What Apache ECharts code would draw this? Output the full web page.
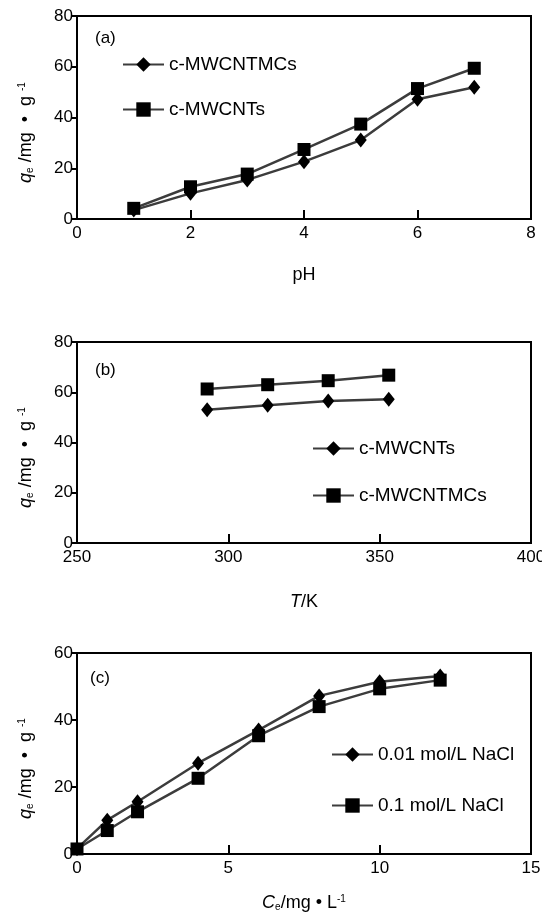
<!DOCTYPE html>
<html>
<head>
<meta charset="utf-8">
<script src="https://cdn.jsdelivr.net/npm/echarts@6/dist/echarts.min.js"></script>
<style>
html,body{margin:0;padding:0;background:#fff;}
#chart{width:542px;height:917px;}
</style>
</head>
<body>
<div id="chart"></div>
<script>
// Panel (a): q_e vs pH
const pH = [1, 2, 3, 4, 5, 6, 7];
const aMCs = [3.5, 10.1, 15.4, 22.6, 31.1, 47.2, 51.9];   // c-MWCNTMCs (diamond)
const aNTs = [4.2, 12.7, 17.7, 27.4, 37.4, 51.4, 59.4];   // c-MWCNTs (square)
// Panel (b): q_e vs T
const T = [293, 313, 333, 353];
const bNTs = [53.0, 54.8, 56.5, 57.2];   // c-MWCNTs (diamond)
const bMCs = [61.3, 63.0, 64.6, 66.8];   // c-MWCNTMCs (square)
// Panel (c): q_e vs C_e
const Ce = [0, 1, 2, 4, 6, 8, 10, 12];
const c001 = [1.6, 10.1, 15.6, 27.1, 37.0, 47.2, 51.4, 53.1]; // 0.01 mol/L NaCl (diamond)
const c01 = [1.5, 7.0, 12.6, 22.6, 35.3, 44.0, 49.3, 51.9];   // 0.1 mol/L NaCl (square)

const FONT = 'Liberation Sans';
const pair = (xs, ys) => xs.map((x, i) => [x, ys[i]]);
const lineCol = '#3c3c3c';

function mkSeries(name, idx, data, sym) {
  return {
    name: name, type: 'line', xAxisIndex: idx, yAxisIndex: idx,
    data: data, symbol: sym,
    symbolSize: sym === 'diamond' ? [12, 15] : 13,
    itemStyle: {color: '#000'},
    lineStyle: {color: lineCol, width: 2.5},
    animation: false
  };
}

const rich = {
  i: {fontFamily: FONT, fontSize: 18, fontStyle: 'italic', color: '#000'},
  n: {fontFamily: FONT, fontSize: 18, color: '#000'},
  sub: {fontFamily: FONT, fontSize: 10, color: '#000', verticalAlign: 'bottom', padding: [8, 0, 0, 0]},
  sup: {fontFamily: FONT, fontSize: 10, color: '#000', verticalAlign: 'top', padding: [0, 0, 8, 0]}
};

function xAx(idx, min, max, interval, name, gap) {
  return {
    gridIndex: idx, type: 'value', min: min, max: max, interval: interval,
    name: name, nameLocation: 'middle', nameGap: gap,
    nameTextStyle: {fontFamily: FONT, fontSize: 18, color: '#000', rich: rich},
    axisLine: {show: true, lineStyle: {color: '#000', width: 2}},
    axisTick: {show: true, inside: true, length: 9, lineStyle: {color: '#000', width: 2}},
    axisLabel: {fontFamily: FONT, fontSize: 17, color: '#000', margin: 6},
    splitLine: {show: false}
  };
}
function yAx(idx, min, max, interval) {
  return {
    gridIndex: idx, type: 'value', min: min, max: max, interval: interval,
    name: '{i|q}{sub|e}{n| /mg  •  g }{sup|-1}', nameLocation: 'middle', nameGap: 42,
    nameTextStyle: {fontFamily: FONT, fontSize: 18, color: '#000', rich: rich, padding: [0, 30, 0, 0]},
    axisLine: {show: true, lineStyle: {color: '#000', width: 2}},
    axisTick: {show: true, inside: false, length: 5, lineStyle: {color: '#000', width: 2}},
    axisLabel: {fontFamily: FONT, fontSize: 17, color: '#000', margin: 4},
    splitLine: {show: false}
  };
}
function leg(names, left, top, gap) {
  return {
    data: names, orient: 'vertical', left: left, top: top, itemGap: gap,
    itemWidth: 41, itemHeight: 18, selectedMode: false,
    formatter: n => n.split(':')[1],
    textStyle: {fontFamily: FONT, fontSize: 19, color: '#000'}
  };
}
function grd(top, height) {
  return {left: 77, top: top, width: 454, height: height, show: true,
    borderColor: '#000', borderWidth: 2, containLabel: false, outerBoundsMode: 'none'};
}

const chart = echarts.init(document.getElementById('chart'));
chart.setOption({
  backgroundColor: '#fff',
  animation: false,
  title: [
    {text: '(a)', left: 90, top: 25, textStyle: {fontFamily: FONT, fontSize: 17, fontWeight: 'normal', color: '#000'}},
    {text: '(b)', left: 90, top: 357, textStyle: {fontFamily: FONT, fontSize: 17, fontWeight: 'normal', color: '#000'}},
    {text: '(c)', left: 85, top: 665, textStyle: {fontFamily: FONT, fontSize: 17, fontWeight: 'normal', color: '#000'}}
  ],
  grid: [grd(16, 203), grd(342, 201), grd(653, 201)],
  xAxis: [
    xAx(0, 0, 8, 2, 'pH', 47),
    xAx(1, 250, 400, 50, '{i|T}{n|/K}', 50),
    xAx(2, 0, 15, 5, '{i|C}{sub|e}{n|/mg • L}{sup|-1}', 40)
  ],
  yAxis: [
    yAx(0, 0, 80, 20),
    yAx(1, 0, 80, 20),
    yAx(2, 0, 60, 20)
  ],
  legend: [
    leg(['a:c-MWCNTMCs', 'a:c-MWCNTs'], 117, 50, 26),
    leg(['b:c-MWCNTs', 'b:c-MWCNTMCs'], 307, 434, 28),
    leg(['c:0.01 mol/L NaCl', 'c:0.1 mol/L NaCl'], 326, 740, 32)
  ],
  series: [
    mkSeries('a:c-MWCNTMCs', 0, pair(pH, aMCs), 'diamond'),
    mkSeries('a:c-MWCNTs', 0, pair(pH, aNTs), 'rect'),
    mkSeries('b:c-MWCNTs', 1, pair(T, bNTs), 'diamond'),
    mkSeries('b:c-MWCNTMCs', 1, pair(T, bMCs), 'rect'),
    mkSeries('c:0.01 mol/L NaCl', 2, pair(Ce, c001), 'diamond'),
    mkSeries('c:0.1 mol/L NaCl', 2, pair(Ce, c01), 'rect')
  ]
});
</script>
</body>
</html>
